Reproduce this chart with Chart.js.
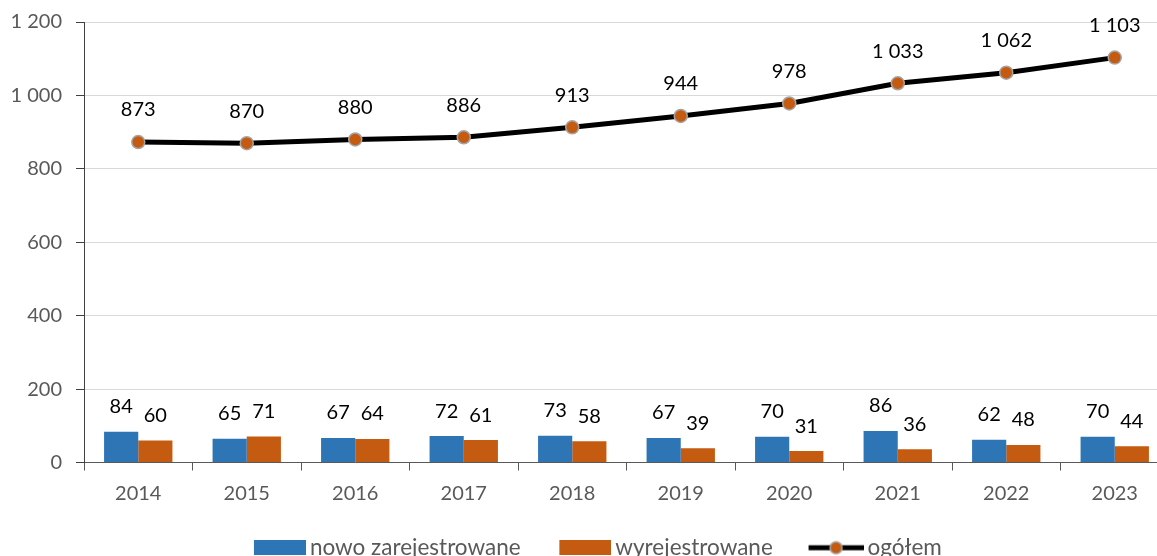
<!DOCTYPE html>
<html>
<head>
<meta charset="utf-8">
<script src="https://cdn.jsdelivr.net/npm/chart.js@4"></script>
<style>
body { margin: 0; background: #fff; overflow: hidden; }
#wrap { width: 1189px; height: 569px; }
</style>
</head>
<body>
<div id="wrap"><canvas id="regChart"></canvas></div>
<script>
const years = ['2014', '2015', '2016', '2017', '2018', '2019', '2020', '2021', '2022', '2023'];
const newRegistered = [84, 65, 67, 72, 73, 67, 70, 86, 62, 70];
const deregistered = [60, 71, 64, 61, 58, 39, 31, 36, 48, 44];
const totalCount = [873, 870, 880, 886, 913, 944, 978, 1033, 1062, 1103];
const seriesNames = ['nowo zarejestrowane', 'wyrejestrowane', 'ogółem'];

const BLUE = '#2E75B6';
const ORANGE = '#C55A11';
const GREY_TEXT = '#595959';
const FONT = 'Lato, "Open Sans", sans-serif';

function fmt(v) {
    return String(v).replace(/\B(?=(\d{3})+(?!\d))/g, ' ');
}

// legend icons: transparent margin on the left, so the gap before the text stays small
function boxIcon(color) {
    const c = document.createElement('canvas');
    c.width = 66; c.height = 15;
    const g = c.getContext('2d');
    g.fillStyle = color;
    g.fillRect(14, 0, 52, 15);
    return c;
}
function lineIcon() {
    const c = document.createElement('canvas');
    c.width = 66; c.height = 16;
    const g = c.getContext('2d');
    g.strokeStyle = '#000';
    g.lineWidth = 5;
    g.beginPath(); g.moveTo(11, 8); g.lineTo(66, 8); g.stroke();
    g.beginPath(); g.arc(38.5, 8, 6, 0, Math.PI * 2);
    g.fillStyle = ORANGE; g.fill();
    g.lineWidth = 1.5; g.strokeStyle = '#A5A5A5'; g.stroke();
    return c;
}
const legendIcons = [boxIcon(BLUE), boxIcon(ORANGE), lineIcon()];

const valueLabels = {
    id: 'valueLabels',
    afterDatasetsDraw(chart) {
        const ctx = chart.ctx;
        ctx.save();
        ctx.font = '20px ' + FONT;
        ctx.fillStyle = '#000';
        ctx.textAlign = 'center';
        ctx.textBaseline = 'middle';
        chart.data.datasets.forEach((ds, i) => {
            const meta = chart.getDatasetMeta(i);
            const offset = ds.type === 'line' ? 32 : 25;
            meta.data.forEach((el, j) => {
                ctx.fillText(fmt(ds.data[j]), el.x, el.y - offset);
            });
        });
        ctx.restore();
    }
};

const ctx = document.getElementById('regChart').getContext('2d');
new Chart(ctx, {
    type: 'bar',
    data: {
        labels: years,
        datasets: [{
            label: seriesNames[0],
            data: newRegistered,
            backgroundColor: BLUE,
            categoryPercentage: 0.63,
            barPercentage: 1.0
        }, {
            label: seriesNames[1],
            data: deregistered,
            backgroundColor: ORANGE,
            categoryPercentage: 0.63,
            barPercentage: 1.0
        }, {
            type: 'line',
            label: seriesNames[2],
            data: totalCount,
            borderColor: '#000',
            borderWidth: 5,
            tension: 0,
            pointRadius: 6.5,
            pointBackgroundColor: ORANGE,
            pointBorderColor: '#A5A5A5',
            pointBorderWidth: 1.5
        }]
    },
    options: {
        responsive: true,
        maintainAspectRatio: false,
        animation: false,
        layout: { padding: 0 },
        plugins: {
            tooltip: { enabled: false },
            legend: {
                position: 'bottom',
                labels: {
                    usePointStyle: true,
                    pointStyleWidth: 51.5,
                    padding: 32,
                    color: GREY_TEXT,
                    font: { size: 22.5, family: FONT },
                    generateLabels(chart) {
                        const items = Chart.defaults.plugins.legend.labels.generateLabels(chart);
                        items.forEach((it, i) => { it.pointStyle = legendIcons[i]; });
                        return items;
                    }
                }
            }
        },
        scales: {
            x: {
                afterFit(scale) { scale.height = 42; },
                grid: { offset: true, drawOnChartArea: false, tickLength: 8, color: GREY_TEXT },
                border: { color: GREY_TEXT },
                ticks: { color: GREY_TEXT, font: { size: 20, family: FONT }, padding: 11 }
            },
            y: {
                min: 0,
                max: 1200,
                afterFit(scale) { scale.width = 84; },
                grid: { color: '#D9D9D9', tickLength: 8, tickColor: '#404040' },
                border: { color: '#404040' },
                ticks: {
                    stepSize: 200,
                    color: GREY_TEXT,
                    font: { size: 20, family: FONT, lineHeight: 0.8 },
                    padding: 14,
                    callback: v => fmt(v)
                }
            },
            // empty spacer on the right, only to move the legend centre
            spacer: {
                type: 'linear',
                position: 'right',
                min: 0,
                max: 1200,
                afterFit(scale) { scale.width = 20; },
                grid: { display: false },
                border: { display: false },
                ticks: { display: false }
            }
        }
    },
    plugins: [valueLabels]
});
</script>
</body>
</html>
